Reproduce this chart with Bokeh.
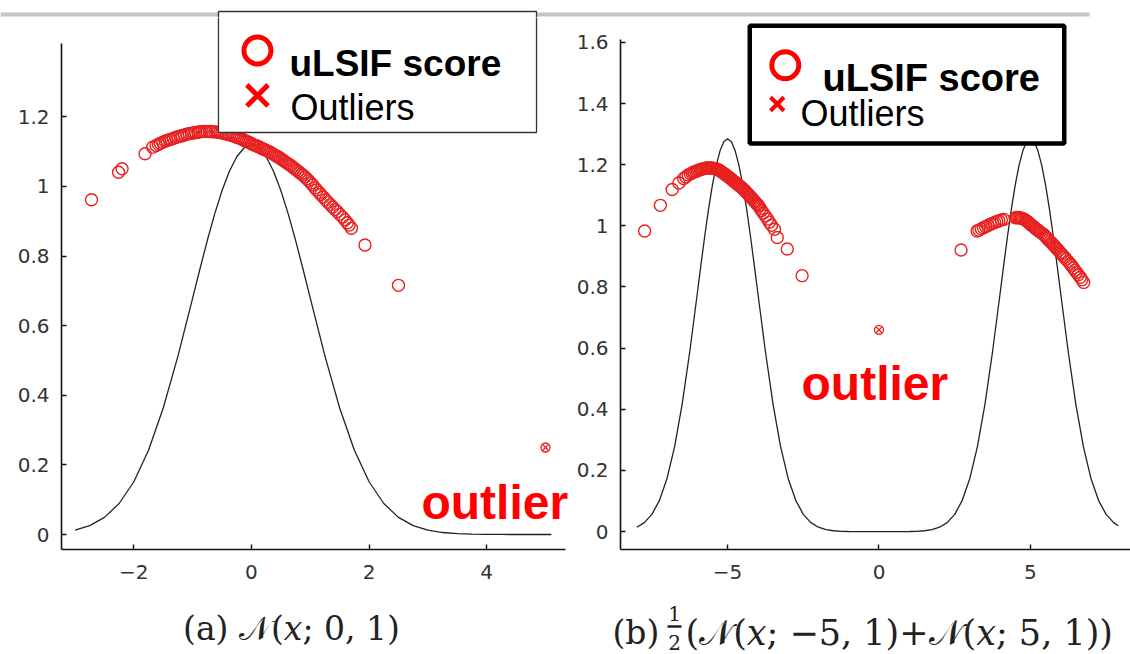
from bokeh.plotting import figure
from bokeh.layouts import row, column
from bokeh.models import Range1d, FixedTicker, CustomJSTickFormatter, Label
from bokeh.core.properties import value
from bokeh.embed import file_html
from bokeh.resources import INLINE

# ---------------- data: panel (a) ----------------
a_curve_x = [-3.0, -2.75, -2.5, -2.25, -2.0, -1.75, -1.5, -1.25, -1.0, -0.875, -0.75, -0.625,
             -0.5, -0.375, -0.25, -0.125, 0.0, 0.125, 0.25, 0.375, 0.5, 0.625, 0.75, 0.875,
             1.0, 1.25, 1.5, 1.75, 2.0, 2.25, 2.5, 2.75, 3.0, 3.25, 3.5, 3.75, 4.0, 4.25,
             4.5, 4.75, 5.0, 5.1]
a_curve_y = [0.0124, 0.0255, 0.0492, 0.0891, 0.1516, 0.2423, 0.3636, 0.5127, 0.6793, 0.7637,
             0.8454, 0.9213, 0.9884, 1.0439, 1.0855, 1.1113, 1.12, 1.1113, 1.0855, 1.0439,
             0.9884, 0.9213, 0.8454, 0.7637, 0.6793, 0.5127, 0.3636, 0.2423, 0.1516, 0.0891,
             0.0492, 0.0255, 0.0124, 0.0057, 0.0025, 0.0010, 0.0004, 0.0001, 0.0, 0.0, 0.0, 0.0]
a_score_x = [-2.72, -2.26, -2.20, -1.81, -1.68, -1.62, -1.55, -1.47, -1.40, -1.33,
             -1.25, -1.18, -1.10, -1.02, -0.95, -0.88, -0.80, -0.72, -0.66, -0.58,
             -0.50, -0.43, -0.37, -0.30, -0.24, -0.18, -0.12, -0.06, 0.00, 0.05,
             0.11, 0.17, 0.22, 0.28, 0.34, 0.40, 0.46, 0.52, 0.58, 0.64,
             0.70, 0.76, 0.82, 0.88, 0.94, 1.01, 1.08, 1.15, 1.22, 1.30,
             1.38, 1.46, 1.55, 1.63, 1.70, 1.93, 2.50,
             -1.58, -1.51, -1.44, -1.37, -1.29, -1.21, -1.14, -1.06, -0.98, -0.91,
             -0.84, -0.76, -0.69, -0.62, -0.54, -0.46, -0.40, -0.33, -0.27, -0.21,
             -0.15, -0.09, -0.03, 0.02, 0.08, 0.14, 0.20, 0.25, 0.31, 0.37,
             0.43, 0.49, 0.55, 0.61, 0.67, 0.73, 0.79, 0.85, 0.91, 0.97,
             1.04, 1.11, 1.18, 1.26, 1.34, 1.42, 1.50, 1.59, 1.66]
a_score_y = [0.962, 1.041, 1.051, 1.094, 1.113, 1.118, 1.124, 1.130, 1.134, 1.138,
             1.143, 1.146, 1.150, 1.153, 1.155, 1.157, 1.158, 1.158, 1.157, 1.156,
             1.154, 1.151, 1.148, 1.145, 1.141, 1.137, 1.132, 1.128, 1.123, 1.119,
             1.115, 1.110, 1.106, 1.101, 1.096, 1.090, 1.084, 1.077, 1.070, 1.063,
             1.056, 1.048, 1.040, 1.032, 1.022, 1.010, 0.996, 0.983, 0.970, 0.955,
             0.941, 0.928, 0.912, 0.896, 0.880, 0.832, 0.716,
             1.121, 1.127, 1.132, 1.136, 1.141, 1.145, 1.148, 1.152, 1.154, 1.156,
             1.158, 1.158, 1.158, 1.157, 1.155, 1.153, 1.150, 1.147, 1.143, 1.139,
             1.135, 1.130, 1.126, 1.121, 1.117, 1.113, 1.108, 1.104, 1.099, 1.093,
             1.087, 1.081, 1.074, 1.067, 1.060, 1.052, 1.044, 1.036, 1.027, 1.017,
             1.004, 0.990, 0.977, 0.962, 0.948, 0.934, 0.920, 0.904, 0.889]
a_outlier_x = [5.0]
a_outlier_y = [0.25]
a_xticks = [-2, 0, 2, 4]
a_yticks = [0, 0.2, 0.4, 0.6, 0.8, 1.0, 1.2]
a_caption = "(a) \U0001D4A9(\U0001D465; 0, 1)"

# ---------------- data: panel (b) ----------------
b_curve_x = [-8.0, -7.75, -7.5, -7.25, -7.0, -6.75, -6.5, -6.25, -6.0, -5.875, -5.75, -5.625,
             -5.5, -5.375, -5.25, -5.125, -5.0, -4.875, -4.75, -4.625, -4.5, -4.375, -4.25,
             -4.125, -4.0, -3.75, -3.5, -3.25, -3.0, -2.75, -2.5, -2.25, -2.0, -1.75, -1.5,
             -1.25, -1.0, -0.5, 0.0, 0.5, 1.0, 1.25, 1.5, 1.75, 2.0, 2.25, 2.5, 2.75, 3.0,
             3.25, 3.5, 3.75, 4.0, 4.125, 4.25, 4.375, 4.5, 4.625, 4.75, 4.875, 5.0, 5.125,
             5.25, 5.375, 5.5, 5.625, 5.75, 5.875, 6.0, 6.25, 6.5, 6.75, 7.0, 7.25, 7.5,
             7.75, 7.9]
b_curve_y = [0.0143, 0.0293, 0.0564, 0.1023, 0.1739, 0.2779, 0.4172, 0.5883, 0.7794, 0.8762,
             0.9699, 1.0570, 1.1340, 1.1977, 1.2454, 1.2750, 1.2850, 1.2750, 1.2454, 1.1977,
             1.1340, 1.0570, 0.9699, 0.8762, 0.7794, 0.5883, 0.4172, 0.2779, 0.1739, 0.1023,
             0.0564, 0.0293, 0.0143, 0.0065, 0.0028, 0.0011, 0.0004, 0.0, 0.0, 0.0, 0.0004,
             0.0011, 0.0028, 0.0065, 0.0143, 0.0293, 0.0564, 0.1023, 0.1739, 0.2779, 0.4172,
             0.5883, 0.7794, 0.8762, 0.9699, 1.0570, 1.1340, 1.1977, 1.2454, 1.2750, 1.2850,
             1.2750, 1.2454, 1.1977, 1.1340, 1.0570, 0.9699, 0.8762, 0.7794, 0.5883, 0.4172,
             0.2779, 0.1739, 0.1023, 0.0564, 0.0293, 0.0190]
b_score_x = [-7.74, -7.22, -6.83, -6.61, -6.45, -6.30, -6.17, -6.05, -5.95, -5.85,
             -5.75, -5.66, -5.56, -5.47, -5.38, -5.30, -5.22, -5.14, -5.07, -5.00,
             -4.92, -4.84, -4.76, -4.68, -4.60, -4.52, -4.44, -4.36, -4.28, -4.20,
             -4.12, -4.04, -3.97, -3.88, -3.75, -3.62, -3.45, -3.36, -3.03, -2.54,
             2.71, 3.24, 3.38, 3.52, 3.68, 3.82, 3.96, 4.12, 4.50, 4.58,
             4.66, 4.74, 4.82, 4.90, 5.00, 5.08, 5.16, 5.24, 5.32, 5.44,
             5.52, 5.60, 5.70, 5.80, 5.88, 5.98, 6.08, 6.18, 6.32, 6.42,
             6.52, 6.65, 6.76,
             -6.38, -6.23, -6.11, -6.00, -5.90, -5.80, -5.70, -5.61, -5.51, -5.42,
             -5.34, -5.26, -5.18, -5.10, -5.03, -4.96, -4.88, -4.80, -4.72, -4.64,
             -4.56, -4.48, -4.40, -4.32, -4.24, -4.16, -4.08, -4.00, -3.92, -3.82,
             -3.68, -3.55,
             3.30, 3.45, 3.60, 3.75, 3.89, 4.04, 4.54, 4.62, 4.70, 4.78,
             4.86, 4.95, 5.04, 5.12, 5.20, 5.28, 5.38, 5.48, 5.56, 5.65,
             5.75, 5.84, 5.93, 6.03, 6.13, 6.25, 6.37, 6.47, 6.58, 6.70]
b_score_y = [0.983, 1.067, 1.119, 1.140, 1.155, 1.166, 1.173, 1.178, 1.182, 1.185,
             1.188, 1.189, 1.189, 1.188, 1.186, 1.183, 1.178, 1.172, 1.167, 1.162,
             1.156, 1.150, 1.143, 1.137, 1.130, 1.124, 1.116, 1.107, 1.099, 1.090,
             1.081, 1.072, 1.064, 1.050, 1.032, 1.012, 0.989, 0.962, 0.924, 0.837,
             0.921, 0.983, 0.990, 0.997, 1.005, 1.011, 1.016, 1.021, 1.026, 1.027,
             1.026, 1.024, 1.020, 1.014, 1.005, 0.999, 0.992, 0.986, 0.980, 0.972,
             0.963, 0.954, 0.944, 0.933, 0.924, 0.913, 0.902, 0.891, 0.875, 0.862,
             0.848, 0.832, 0.815,
             1.160, 1.170, 1.176, 1.180, 1.184, 1.187, 1.189, 1.189, 1.189, 1.187,
             1.185, 1.181, 1.175, 1.170, 1.165, 1.159, 1.153, 1.146, 1.140, 1.133,
             1.127, 1.120, 1.112, 1.103, 1.095, 1.086, 1.077, 1.068, 1.057, 1.042,
             1.022, 1.002,
             0.986, 0.994, 1.001, 1.008, 1.014, 1.019, 1.027, 1.027, 1.025, 1.022,
             1.017, 1.010, 1.002, 0.996, 0.989, 0.983, 0.976, 0.968, 0.959, 0.949,
             0.939, 0.929, 0.919, 0.908, 0.897, 0.883, 0.869, 0.855, 0.840, 0.824]
b_outlier_x = [0.0]
b_outlier_y = [0.66]
b_xticks = [-5, 0, 5]
b_yticks = [0, 0.2, 0.4, 0.6, 0.8, 1.0, 1.2, 1.4, 1.6]
b_caption = ["(b)", "1", "2", "(\U0001D4A9(\U0001D465; \u22125, 1)+\U0001D4A9(\U0001D465; 5, 1))"]

legend_labels = ["uLSIF score", "Outliers"]
outlier_text = "outlier"

RED = "#e82020"
FMT = "const v = Math.round(tick*10)/10; return v.toString().replace('-', '\\u2212');"
SERIF = "DejaVu Serif"


def blank(w, h, xr, yr):
    p = figure(width=w, height=h, x_range=Range1d(*xr), y_range=Range1d(*yr),
               x_axis_type=None, y_axis_type=None, output_backend="svg", toolbar_location=None,
               min_border_left=0, min_border_right=0, min_border_top=0, min_border_bottom=0)
    p.outline_line_color = None
    p.xgrid.visible = False
    p.ygrid.visible = False
    return p


def style(p, xt, yt, xb, yb):
    p.outline_line_color = None
    p.xgrid.visible = False
    p.ygrid.visible = False
    p.xaxis.ticker = FixedTicker(ticks=xt)
    p.yaxis.ticker = FixedTicker(ticks=yt)
    p.xaxis.bounds = xb
    p.yaxis.bounds = yb
    for ax in (p.xaxis[0], p.yaxis[0]):
        ax.axis_line_color = "#111111"
        ax.axis_line_width = 1.6
        ax.major_tick_in = 5
        ax.major_tick_out = 0
        ax.major_tick_line_color = "#111111"
        ax.major_tick_line_width = 1.4
        ax.minor_tick_line_color = None
        ax.major_label_text_font = "DejaVu Sans"
        ax.major_label_text_font_size = "20px"
        ax.major_label_text_color = "#333333"
        ax.formatter = CustomJSTickFormatter(code=FMT)
    p.xaxis.major_label_standoff = 15
    p.yaxis.major_label_standoff = 12


def lab(p, x, y, text, size, color="black", font="Liberation Sans", style_="normal"):
    p.add_layout(Label(x=x, y=y, text=text, text_font=font, text_font_size=size,
                       text_font_style=style_, text_color=color, text_align="left",
                       text_baseline="alphabetic"))


# ---------------- top strip (slide rule line) ----------------
top = blank(1130, 17, (0, 1130), (17, 0))
top.quad(left=[0], right=[1089], top=[12], bottom=[16], fill_color="#c4c4c4", line_color=None)
top.quad(left=[218], right=[536], top=[11], bottom=[18], fill_color="white",
         line_color="#333333", line_width=1.3)

# ---------------- panel (a) ----------------
p1 = figure(width=570, height=581, x_range=Range1d(-3.23, 5.425), y_range=Range1d(-0.0431, 1.4856),
            output_backend="svg", toolbar_location=None,
            min_border_left=61, min_border_right=0, min_border_top=0, min_border_bottom=49)
style(p1, a_xticks, a_yticks, (-3.23, 5.34), (-0.0431, 1.411))
p1.line(a_curve_x, a_curve_y, line_color="#222222", line_width=1.3)
p1.scatter(a_score_x, a_score_y, marker="circle", size=12, fill_color=None,
           line_color=RED, line_width=1.4)
p1.scatter(a_outlier_x, a_outlier_y, marker="circle", size=9, fill_color=None,
           line_color=RED, line_width=1.3)
p1.scatter(a_outlier_x, a_outlier_y, marker="x", size=9, line_color=RED, line_width=1.3)
# legend box (slide overlay)
p1.quad(left=[-0.561], right=[4.847], top=[1.60], bottom=[1.1552], fill_color="white",
        line_color="#333333", line_width=1.3)
p1.scatter([0.102], [1.3908], marker="circle", size=27, fill_color=None, line_color="red",
           line_width=5)
p1.scatter([0.102], [1.2615], marker="x", size=30, line_color="red", line_width=5)
lab(p1, 0.646, 1.3534, legend_labels[0], "37px", style_="bold")
lab(p1, 0.663, 1.2270, legend_labels[1], "36px")
lab(p1, 2.891, 0.0920, outlier_text, "48px", color="red", style_="bold")

# ---------------- panel (b) ----------------
p2 = figure(width=560, height=581, x_range=Range1d(-8.537, 8.306), y_range=Range1d(-0.0585, 1.6813),
            output_backend="svg", toolbar_location=None,
            min_border_left=50, min_border_right=0, min_border_top=0, min_border_bottom=46)
style(p2, b_xticks, b_yticks, (-8.537, 8.306), (-0.0585, 1.6098))
p2.line(b_curve_x, b_curve_y, line_color="#222222", line_width=1.3)
p2.scatter(b_score_x, b_score_y, marker="circle", size=12, fill_color=None,
           line_color=RED, line_width=1.4)
p2.scatter(b_outlier_x, b_outlier_y, marker="circle", size=9, fill_color=None,
           line_color=RED, line_width=1.3)
p2.scatter(b_outlier_x, b_outlier_y, marker="x", size=9, line_color=RED, line_width=1.3)
p2.quad(left=[-4.268], right=[6.118], top=[1.6545], bottom=[1.2691], fill_color="white",
        line_color="black", line_width=4.5)
p2.scatter([-3.095], [1.5252], marker="circle", size=27, fill_color=None, line_color="red",
           line_width=5)
p2.scatter([-3.36], [1.3984], marker="x", size=19, line_color="red", line_width=4)
lab(p2, -1.866, 1.4829, legend_labels[0], "38px", style_="bold")
lab(p2, -2.592, 1.3659, legend_labels[1], "36px")
lab(p2, -2.559, 0.4846, outlier_text, "48px", color="red", style_="bold")

# ---------------- captions ----------------
c1 = blank(570, 56, (0, 570), (654, 598))
c1.text(x=[291], y=[628], text=[a_caption], text_font=value(SERIF), text_font_size="33px",
        text_color="#222222", text_align="center", text_baseline="middle")
c2 = blank(560, 56, (570, 1130), (654, 598))
c2.text(x=[612], y=[632], text=[b_caption[0]], text_font=value(SERIF), text_font_size="33px",
        text_color="#222222", text_align="left", text_baseline="middle")
c2.text(x=[674, 674], y=[613, 642], text=b_caption[1:3], text_font=value(SERIF),
        text_font_size="20px", text_color="#222222", text_align="center", text_baseline="middle")
c2.segment(x0=[667], y0=[626], x1=[681], y1=[626], line_color="#222222", line_width=2.5)
c2.text(x=[685], y=[632], text=[b_caption[3]], text_font=value(SERIF), text_font_size="35px",
        text_color="#222222", text_align="left", text_baseline="middle")

layout = column(top, row(p1, p2, spacing=0), row(c1, c2, spacing=0), spacing=0)
open("out.html", "w").write(file_html(layout, INLINE))
